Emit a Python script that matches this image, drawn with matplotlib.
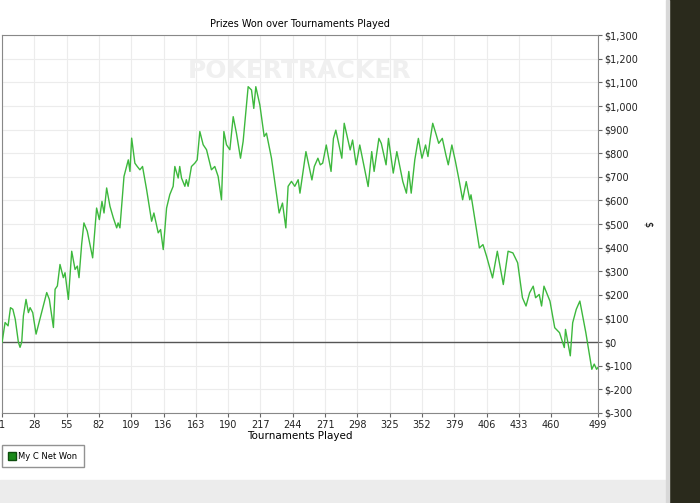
import matplotlib
matplotlib.use("Agg")
import matplotlib.pyplot as plt
from matplotlib.patches import Rectangle
from matplotlib.lines import Line2D
from matplotlib.ticker import FuncFormatter

# vertices (tournament number, cumulative $ won)
tourneys = [1, 3.5, 6, 8, 10, 12, 14.6, 16, 17.4, 18.8, 21, 23, 24.4, 26.6, 29.4, 38.3, 40.5, 43.9,
            45.3, 47.2, 49.4, 52.2, 53.6, 56.4, 59.2, 62, 63.9, 65.3, 67.5, 69.4, 72.2, 76.7, 80,
            82.3, 84.5, 86.2, 88.4, 91.2, 94, 96.8, 98, 99.5, 102.9, 106.5, 107.9, 109.3, 112, 114,
            116.2, 118.4, 121.8, 126, 127.9, 131.5, 133.5, 135.7, 138.5, 141.2, 144, 145.4, 148.2,
            149.5, 151, 153.8, 155, 156.5, 159.3, 162.1, 164.1, 166.3, 169.1, 171.9, 176, 178.8,
            181.6, 184.4, 186.4, 188.6, 191.4, 194.2, 196.9, 200.3, 202.5, 206.7, 209.5, 211.4,
            213.1, 216.5, 220.1, 222, 226.2, 232.6, 235.4, 238.2, 240.1, 242.9, 245.7, 248.5,
            250, 255, 260, 262, 265, 267, 269, 272, 276, 278, 280, 285, 287, 292, 294, 297, 300,
            307, 310, 312, 316, 318, 322, 324, 328, 331, 336, 339, 341, 343, 346, 349, 352, 355,
            357, 359, 361, 364, 366, 369, 372, 374, 377, 380, 383, 386, 389, 392, 393, 400, 403,
            406, 411, 415, 420, 424, 428, 432, 436, 439, 442, 445, 447, 450, 452, 454, 459, 463,
            467, 471, 472, 476, 478, 481, 484, 489, 494, 496, 498, 499]
net_won = [0, 83, 69, 146, 139, 97, 0, -22, 0, 111, 181, 125, 146, 125, 34, 210, 181, 62,
           224, 238, 329, 273, 294, 181, 385, 308, 322, 273, 414, 505, 470, 357, 568,
           519, 596, 547, 653, 575, 526, 484, 505, 484, 702, 772, 723, 864, 758, 744,
           730, 744, 646, 512, 547, 463, 477, 392, 568, 625, 660, 744, 695,
           744, 695, 660, 688, 660, 744, 758, 772, 892, 836, 815, 730, 744,
           702, 603, 892, 836, 815, 955, 885, 779, 850, 1082, 1068, 990,
           1082, 1004, 871, 885, 779, 547, 589, 484, 660, 681, 660, 688,
           631, 807, 687, 744, 779, 751, 758, 835, 723, 863, 898, 779, 927, 814, 856, 751, 835,
           659, 807, 723, 863, 842, 751, 863, 716, 807, 680, 631, 723, 631, 772, 863, 779, 835,
           786, 863, 927, 877, 842, 863, 793, 751, 835, 765, 687, 603, 680, 603, 624, 399, 413,
           364, 272, 385, 244, 385, 378, 336, 188, 153, 209, 237, 188, 202, 153, 237, 174, 61,
           40, -23, 54, -58, 82, 139, 174, 40, -115, -93, -115, -108]
x_ticks = [1, 28, 55, 82, 109, 136, 163, 190, 217, 244, 271, 298, 325, 352, 379, 406, 433, 460, 499]
y_ticks = list(range(-300, 1301, 100))

fig = plt.figure(figsize=(7.0, 5.03), dpi=100)
fig.patch.set_facecolor("white")

# window chrome: bottom strip and dark right edge
fig.patches.append(Rectangle((0, 0), 1, 0.045, transform=fig.transFigure, color="#ececec", zorder=0))
fig.patches.append(Rectangle((0.955, 0), 0.045, 1, transform=fig.transFigure, color="#2a2a1c", zorder=0))
fig.patches.append(Rectangle((0.952, 0), 0.003, 1, transform=fig.transFigure, color="#d8d8d8", zorder=0))

ax = fig.add_axes([0.003, 0.179, 0.851, 0.751])
ax.plot(tourneys, net_won, color="#3db83d", lw=1.0, zorder=3)
ax.axhline(0, color="#555555", lw=1.0, zorder=2)
ax.set_xlim(1, 499)
ax.set_ylim(-300, 1300)
ax.set_xticks(x_ticks)
ax.set_yticks(y_ticks)
ax.yaxis.tick_right()
ax.yaxis.set_label_position("right")
ax.yaxis.set_major_formatter(FuncFormatter(lambda v, p: "${:,.0f}".format(v)))
ax.tick_params(labelsize=7, length=3, color="#666666", labelcolor="#222222", pad=2)
ax.grid(True, color="#ececec", lw=0.8)
ax.set_axisbelow(True)
for s in ax.spines.values():
    s.set_color("#888888")
ax.set_xlabel("Tournaments Played", fontsize=7.5, labelpad=1)
ax.set_ylabel("$", fontsize=7, rotation=270, labelpad=10)
ax.set_title("Prizes Won over Tournaments Played", fontsize=7, pad=6)
ax.text(0.5, 0.905, "POKERTRACKER", transform=ax.transAxes, ha="center", va="center",
        fontsize=18, fontweight="bold", color="#f0f0f0", zorder=1)

# legend box
handle = Line2D([], [], ls="none", marker="s", markersize=6, markerfacecolor="#1a8a1a",
                markeredgecolor="#0d4d0d")
lg = ax.legend([handle], ["My C Net Won"], loc="upper left", bbox_to_anchor=(0.0, -0.085),
               fontsize=6, handlelength=0.8, handletextpad=0.3, fancybox=False,
               edgecolor="#777777", borderpad=0.8, borderaxespad=0)

fig.savefig("out.png", dpi=100)
